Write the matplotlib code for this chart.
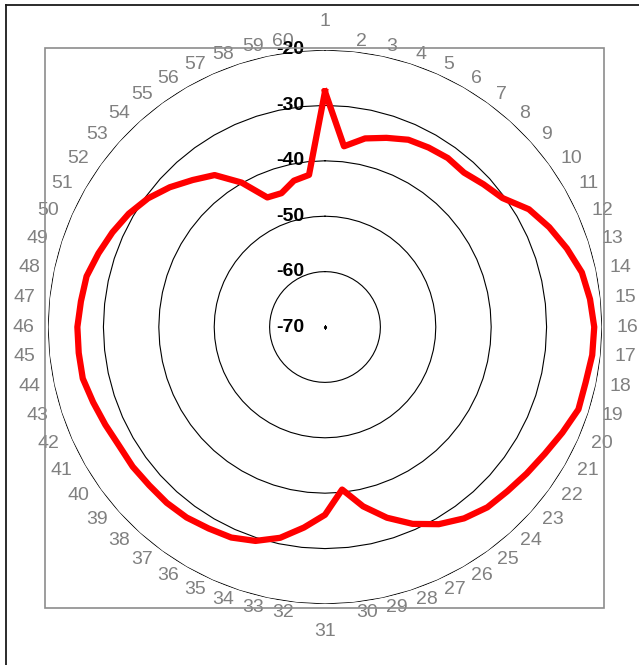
import numpy as np
import matplotlib.pyplot as plt
import matplotlib.patches as patches
import matplotlib.lines as lines
from matplotlib.transforms import offset_copy

# 60 measurement directions, 6 degrees apart, clockwise from the top
categories = [str(i) for i in range(1, 61)]
values = [-27.5, -37.2, -35.2, -34.1, -33.0, -32.6, -32.3, -32.5, -31.5, -30.4,
          -27.5, -25.7, -24.1, -22.6, -21.9, -21.4, -21.5, -21.9, -21.9, -23.1,
          -24.2, -25.0, -25.7, -26.2, -27.3, -28.9, -31.1, -33.8, -36.9, -40.5,
          -36.1, -33.6, -31.1, -29.4, -28.4, -28.0, -27.5, -27.3, -27.3, -27.1,
          -27.1, -26.6, -26.0, -25.3, -25.3, -25.3, -25.7, -26.0, -27.0, -28.0,
          -29.1, -30.5, -32.3, -34.3, -36.1, -39.9, -44.4, -44.6, -43.0, -42.4]
rings = [-20, -30, -40, -50, -60, -70]

W, H = 639, 665
cx, cy, R = 325, 327, 277

fig = plt.figure(figsize=(W/100, H/100), dpi=100)
ax = fig.add_axes([(cx-R)/W, (H-cy-R)/H, 2*R/W, 2*R/H], projection='polar')
ax.set_theta_zero_location('N')
ax.set_theta_direction(-1)
ax.set_ylim(rings[-1], rings[0])
ax.axis('off')

theta = np.deg2rad(np.arange(len(categories))*360/len(categories))
theta_c = np.append(theta, theta[0])

# polygon gridlines
for r in rings[:-1]:
	ax.plot(theta_c, [r]*len(theta_c), color='k', linewidth=0.8, zorder=2)
ax.plot([0], [rings[-1]], marker='s', markersize=1.2, color='k', zorder=2)

vals_c = np.append(values, values[0])
ax.plot(theta_c, vals_c, color='#ff0000', linewidth=4.5, zorder=5, solid_joinstyle='round')

# value axis labels
lab_tr = offset_copy(ax.transData, fig=fig, x=-21, y=0, units='dots')
for r in rings:
	ax.text(0, r, str(r), transform=lab_tr, ha='right', va='center',
		fontsize=14, fontweight='bold', family='Liberation Sans', zorder=10)

# category labels (excel-like placement: pushed sideways by half the label width)
for i, lab in enumerate(categories):
	s = np.sin(theta[i])
	c = np.cos(theta[i])
	if abs(s) < 1e-6:
		dx = 0
		dy = 305*np.sign(c)
	else:
		half = 6 if len(lab) == 1 else 12
		dx = 290*s + np.sign(s)*half
		dy = 287*c
	ax.text(0.5 + dx/(2*R), 0.5 + dy/(2*R), lab, transform=ax.transAxes,
		ha='center', va='center', fontsize=14, color='#808080', family='Liberation Sans')

# plot area frame and chart border
fig.add_artist(patches.Rectangle((45/W, 1-608/H), (604-45)/W, (608-48)/H,
	transform=fig.transFigure, fill=False, edgecolor='#8c8c8c', linewidth=1.2))
fig.add_artist(lines.Line2D([6/W, 6/W], [0, 1-5/H], transform=fig.transFigure,
	color='#1a1a1a', linewidth=1.3))
fig.add_artist(lines.Line2D([6/W, 1], [1-5/H, 1-5/H], transform=fig.transFigure,
	color='#1a1a1a', linewidth=1.3))

plt.savefig('out.png', dpi=100)
plt.close()
